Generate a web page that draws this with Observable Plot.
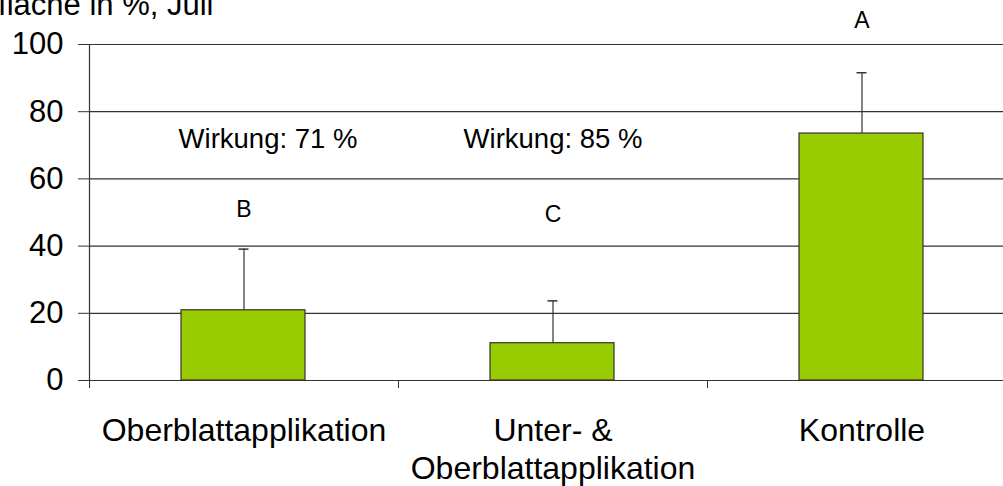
<!DOCTYPE html>
<html>
<head>
<meta charset="utf-8">
<script src="https://cdn.jsdelivr.net/npm/d3@7"></script>
<script src="https://cdn.jsdelivr.net/npm/@observablehq/plot@0.6"></script>
<style>
  html, body { margin: 0; padding: 0; background: #fff; overflow: hidden; }
  svg { font-family: "Liberation Sans", Arial, sans-serif; }
</style>
</head>
<body>
<div id="chart"></div>
<script>
const categories = ["Oberblattapplikation", "Unter- &\nOberblattapplikation", "Kontrolle"];
const means = [20.9, 11.1, 73.5];
const upperErr = [39.1, 23.7, 91.6];
const letters = ["B", "C", "A"];
const letterY = [50.8, 49.3, 107];
const effectLabels = ["Wirkung: 71 %", "Wirkung: 85 %"];
const effectY = [71.7, 71.7];
const title = "Befallene Blattfläche in %, Juli";

const data = categories.map((c, i) => ({cat: c, mean: means[i], hi: upperErr[i], letter: letters[i], ly: letterY[i]}));
const effects = effectLabels.map((t, i) => ({cat: categories[i], label: t, y: effectY[i]}));

const W = 1003, H = 486, ML = 89, MT = 44, MB = 106;
const step = 309;

const chart = Plot.plot({
  width: W,
  height: H,
  marginLeft: ML,
  marginRight: 0,
  marginTop: MT,
  marginBottom: MB,
  style: {fontFamily: "'Liberation Sans', Arial, sans-serif", background: "#fff", overflow: "hidden"},
  x: {domain: categories, range: [ML, ML + step * categories.length], padding: 0, axis: null},
  y: {domain: [0, 100], axis: null},
  marks: [
    Plot.gridY({ticks: [20, 40, 60, 80, 100], stroke: "#333", strokeOpacity: 1, strokeWidth: 1.2}),
    Plot.barY(data, {x: "cat", y: "mean", fill: "#99cc00", stroke: "#333", strokeWidth: 1.2, insetLeft: 92, insetRight: 93}),
    Plot.ruleX(data, {x: "cat", y1: "mean", y2: "hi", stroke: "#333", strokeWidth: 1.2}),
    Plot.tickY(data, {x: "cat", y: "hi", stroke: "#333", strokeWidth: 1.5, insetLeft: 149.5, insetRight: 149.5}),
    Plot.ruleY([0], {stroke: "#333", strokeWidth: 1.2}),
    Plot.frame({anchor: "left", stroke: "#333", strokeWidth: 1.2}),
    Plot.axisY({ticks: [0, 20, 40, 60, 80, 100], tickSize: 11, tickPadding: 15, fontSize: 31, label: null, stroke: "#333", color: "#000"}),
    Plot.axisX({tickSize: 8, dx: -step / 2, tickFormat: () => "", stroke: "#333", label: null}),
    Plot.axisX({tickSize: 0, tickPadding: 34, fontSize: 32, lineHeight: 1.17, label: null, fill: "#000"}),
    Plot.text(data, {x: "cat", y: "ly", text: "letter", fontSize: 23, fill: "#000"}),
    Plot.text(effects.slice(0, 1), {x: "cat", y: "y", text: "label", fontSize: 27.5, fill: "#000", dx: 24}),
    Plot.text(effects.slice(1), {x: "cat", y: "y", text: "label", fontSize: 27.5, fill: "#000"}),
    Plot.text([title], {frameAnchor: "top-left", text: d => d, textAnchor: "end", lineAnchor: "bottom", dx: 124, dy: -30, fontSize: 31, fill: "#000"})
  ]
});
document.getElementById("chart").appendChild(chart);
</script>
</body>
</html>
